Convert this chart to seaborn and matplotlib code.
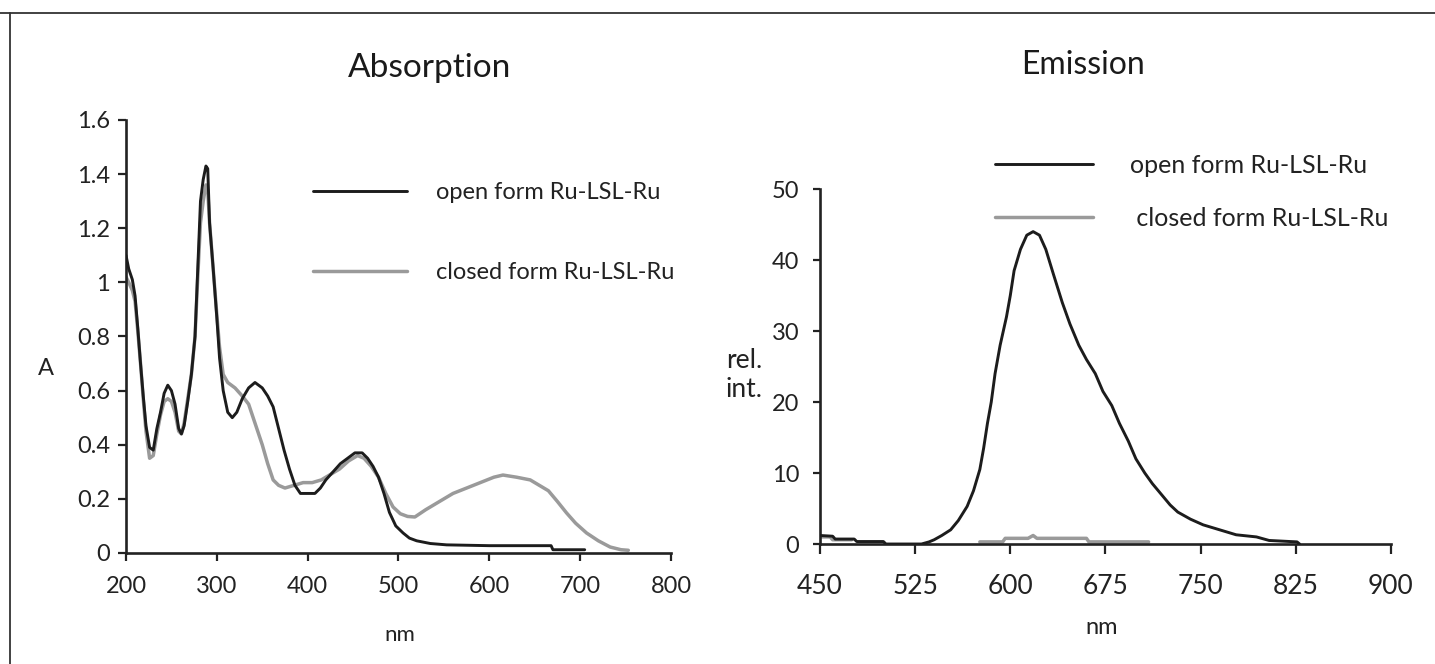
import numpy as np
import pandas as pd
import matplotlib
matplotlib.use("Agg")
import matplotlib.pyplot as plt
import seaborn as sns
from matplotlib.lines import Line2D

# ---------------- data ----------------
OPEN = "open form Ru-LSL-Ru"
CLOSED = "closed form Ru-LSL-Ru"

abs_open_nm = [200, 203, 207, 210, 213, 216, 219, 222, 226, 230, 234, 238, 242, 246, 250, 254,
               258, 261, 264, 268, 272, 276, 279, 282, 285, 288, 290, 292, 296, 300, 303, 307,
               312, 317, 322, 328, 335, 342, 350, 356, 362, 368, 374, 380, 386, 392, 400, 408,
               414, 420, 428, 436, 444, 452, 460, 466, 472, 478, 484, 490, 497, 505, 512, 520,
               535, 553, 600, 668, 670, 705]
abs_open_A = [1.10, 1.05, 1.01, 0.95, 0.83, 0.70, 0.58, 0.47, 0.39, 0.38, 0.46, 0.52, 0.59, 0.62, 0.60, 0.55,
              0.46, 0.44, 0.47, 0.56, 0.66, 0.80, 1.05, 1.30, 1.38, 1.43, 1.42, 1.22, 1.05, 0.87, 0.72, 0.60,
              0.52, 0.50, 0.52, 0.57, 0.61, 0.63, 0.61, 0.58, 0.54, 0.46, 0.38, 0.31, 0.25, 0.22, 0.22, 0.22,
              0.24, 0.27, 0.30, 0.33, 0.35, 0.37, 0.37, 0.35, 0.32, 0.28, 0.22, 0.15, 0.10, 0.074, 0.055, 0.045,
              0.035, 0.03, 0.027, 0.027, 0.012, 0.012]

abs_closed_nm = [200, 203, 207, 210, 213, 216, 219, 222, 226, 230, 234, 238, 242, 246, 250, 254,
                 258, 261, 264, 268, 272, 276, 279, 282, 285, 288, 290, 292, 296, 300, 303, 307,
                 312, 320, 328, 335, 342, 350, 356, 362, 368, 375, 385, 395, 405, 415, 425, 435,
                 445, 455, 462, 470, 478, 486, 494, 502, 510, 518, 530, 545, 560, 575, 590, 605,
                 615, 630, 645, 655, 665, 675, 685, 695, 707, 720, 733, 745, 753]
abs_closed_A = [1.02, 1.00, 0.97, 0.93, 0.82, 0.70, 0.57, 0.45, 0.35, 0.36, 0.44, 0.51, 0.56, 0.57, 0.56, 0.52,
                0.45, 0.44, 0.48, 0.57, 0.66, 0.80, 1.02, 1.22, 1.30, 1.36, 1.34, 1.22, 1.05, 0.88, 0.76, 0.66,
                0.63, 0.61, 0.58, 0.55, 0.48, 0.40, 0.33, 0.27, 0.25, 0.24, 0.25, 0.26, 0.26, 0.27, 0.29, 0.31,
                0.34, 0.36, 0.35, 0.32, 0.28, 0.22, 0.17, 0.145, 0.135, 0.133, 0.16, 0.19, 0.22, 0.24, 0.26, 0.28,
                0.288, 0.28, 0.27, 0.25, 0.23, 0.19, 0.148, 0.11, 0.074, 0.045, 0.022, 0.012, 0.01]

em_open_nm = [450, 460, 462, 477, 479, 500, 502, 530, 536, 540, 546, 553, 559, 566, 571, 576,
              579, 582, 585, 588, 592, 597, 600, 603, 608, 613, 618, 623, 628, 634, 641, 647,
              654, 660, 667, 673, 680, 686, 693, 699, 706, 712, 719, 726, 732, 742, 752, 765,
              778, 794, 804, 826, 828]
em_open_I = [1.2, 1.1, 0.7, 0.7, 0.35, 0.35, 0.0, 0.0, 0.3, 0.6, 1.2, 2.0, 3.3, 5.3, 7.5, 10.5,
             13.5, 17.0, 20.0, 24.0, 28.0, 32.0, 35.0, 38.5, 41.5, 43.5, 44.0, 43.5, 41.5, 38.0, 34.0, 31.0,
             28.0, 26.0, 24.0, 21.5, 19.5, 17.0, 14.5, 12.0, 10.0, 8.5, 7.0, 5.5, 4.5, 3.5, 2.7, 2.0,
             1.3, 1.0, 0.5, 0.3, 0.0]

em_closed_nm_a = [450, 458, 460, 475]
em_closed_I_a = [1.0, 1.0, 0.6, 0.6]
em_closed_nm_b = [576, 594, 596, 614, 618, 621, 660, 662, 709]
em_closed_I_b = [0.3, 0.3, 0.8, 0.8, 1.2, 0.8, 0.8, 0.3, 0.3]

abs_xticks = [200, 300, 400, 500, 600, 700, 800]
abs_yticks = [0, 0.2, 0.4, 0.6, 0.8, 1.0, 1.2, 1.4, 1.6]
abs_yticklabels = ["0", "0.2", "0.4", "0.6", "0.8", "1", "1.2", "1.4", "1.6"]
em_xticks = [450, 525, 600, 675, 750, 825, 900]
em_yticks = [0, 10, 20, 30, 40, 50]

# ---------------- style ----------------
sns.set_theme(style="ticks")
plt.rcParams["font.family"] = ["Lato", "DejaVu Sans"]

BLACK = "#1c1c1c"
GRAY = "#9a9a9a"
LW_BLACK = 2.1
LW_GRAY = 2.5
palette = {OPEN: BLACK, CLOSED: GRAY}

fig = plt.figure(figsize=(14.35, 6.64), dpi=100)
ax1 = fig.add_axes([0.0878, 0.1672, 0.3798, 0.6521])
ax2 = fig.add_axes([0.5714, 0.1807, 0.3979, 0.5346])

abs_df = pd.concat([
    pd.DataFrame({"nm": abs_closed_nm, "A": abs_closed_A, "series": CLOSED, "seg": 0}),
    pd.DataFrame({"nm": abs_open_nm, "A": abs_open_A, "series": OPEN, "seg": 0}),
], ignore_index=True)

em_df = pd.concat([
    pd.DataFrame({"nm": em_closed_nm_a, "I": em_closed_I_a, "series": CLOSED, "seg": 0}),
    pd.DataFrame({"nm": em_closed_nm_b, "I": em_closed_I_b, "series": CLOSED, "seg": 1}),
    pd.DataFrame({"nm": em_open_nm, "I": em_open_I, "series": OPEN, "seg": 0}),
], ignore_index=True)

for ax, df, ycol in [(ax1, abs_df, "A"), (ax2, em_df, "I")]:
    sns.lineplot(data=df, x="nm", y=ycol, hue="series", hue_order=[CLOSED, OPEN],
                 palette=palette, units="seg", estimator=None, sort=False,
                 legend=False, ax=ax)
    for ln in ax.lines:
        c = matplotlib.colors.to_hex(ln.get_color())
        if c == matplotlib.colors.to_hex(GRAY):
            ln.set_linewidth(LW_GRAY)
            ln.set_zorder(2)
        else:
            ln.set_linewidth(LW_BLACK)
            ln.set_zorder(3)

# axes limits / ticks
ax1.set_xlim(200, 800)
ax1.set_ylim(0, 1.6)
ax1.set_xticks(abs_xticks)
ax1.set_yticks(abs_yticks)
ax1.set_yticklabels(abs_yticklabels)
ax2.set_xlim(450, 900)
ax2.set_ylim(0, 50)
ax2.set_xticks(em_xticks)
ax2.set_yticks(em_yticks)

for ax in (ax1, ax2):
    sns.despine(ax=ax)
    for s in ("left", "bottom"):
        ax.spines[s].set_linewidth(1.9)
        ax.spines[s].set_color("#222222")
    ax.tick_params(colors="#222222", labelcolor="#222222", width=1.6, direction="out")
    ax.set_xlabel("")
    ax.set_ylabel("")

ax1.tick_params(axis="x", length=5.5, pad=11, labelsize=17)
ax1.tick_params(axis="y", length=5.5, pad=6, labelsize=17)
ax2.tick_params(axis="x", length=7.5, pad=14, labelsize=19)
ax2.tick_params(axis="y", length=5, pad=10, labelsize=17)

# axis labels
ax1.set_ylabel("A", rotation=0, fontsize=17, color="#222222", ha="center", va="center")
ax1.yaxis.set_label_coords(-0.147, 0.427)
ax1.set_xlabel("nm", fontsize=16, color="#222222", ha="center", va="center")
ax1.xaxis.set_label_coords(0.503, -0.189)
ax2.set_ylabel("rel.\nint.", rotation=0, fontsize=19, color="#222222",
               ha="center", va="center", multialignment="center", linespacing=1.2)
ax2.yaxis.set_label_coords(-0.133, 0.475)
ax2.set_xlabel("nm", fontsize=17, color="#222222", ha="center", va="center")
ax2.xaxis.set_label_coords(0.493, -0.235)

# titles
fig.text(430 / 1435, 1 - 68 / 664, "Absorption", fontsize=24, ha="center", va="center", color="#1a1a1a")
fig.text(1083 / 1435, 1 - 65 / 664, "Emission", fontsize=23, ha="center", va="center", color="#1a1a1a")

# legends
def make_legend(ax, labels, anchor, fs, spacing, hl, tp):
    handles = [Line2D([], [], color=BLACK, lw=LW_BLACK), Line2D([], [], color=GRAY, lw=LW_GRAY)]
    ax.legend(handles, labels, frameon=False, loc="upper left",
              bbox_to_anchor=anchor, bbox_transform=fig.transFigure,
              fontsize=fs, labelspacing=spacing, handlelength=hl, handletextpad=tp,
              borderpad=0, borderaxespad=0, labelcolor="#222222")

make_legend(ax1, [OPEN, CLOSED], (313 / 1435, 1 - 182 / 664), 17, 2.5, 4.0, 1.23)
make_legend(ax2, [OPEN, " " + CLOSED], (995 / 1435, 1 - 154 / 664), 18, 1.18, 3.9, 1.52)

# figure frame (top and left edges)
fig.add_artist(Line2D([0, 1], [1 - 13 / 664, 1 - 13 / 664], transform=fig.transFigure,
                      color="#333333", lw=1.3))
fig.add_artist(Line2D([10 / 1435, 10 / 1435], [0, 1 - 13 / 664], transform=fig.transFigure,
                      color="#333333", lw=1.3))

fig.savefig("out.png", dpi=100)
